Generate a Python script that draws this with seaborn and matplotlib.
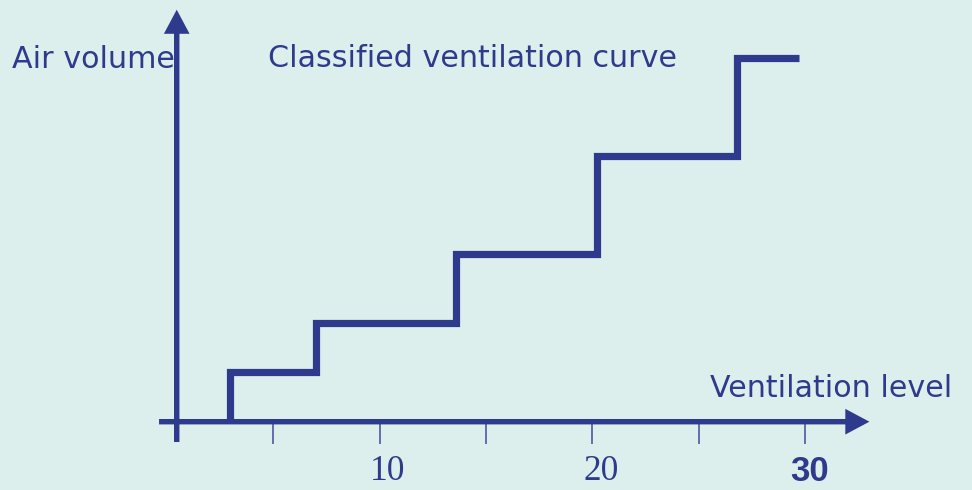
import matplotlib
matplotlib.use("Agg")
import matplotlib.pyplot as plt
import seaborn as sns

# step curve: ventilation level where each step starts, and air volume reached
levels = [3, 7, 13.6, 20.2, 26.8, 29.7]
volumes = [0, 5, 9.9, 16.8, 26.6, 36.4]

tick_values = [5, 10, 15, 20, 25, 30]
tick_labels = {10: "10", 20: "20", 30: "30"}

blue = "#2e3a8c"
tick_blue = "#5a64a4"
bg = "#ddefec"

sns.set_theme(style="white")
plt.rcParams["font.family"] = ["DejaVu Sans"]

fig = plt.figure(figsize=(9.72, 4.9), dpi=100)
fig.patch.set_facecolor(bg)
ax = fig.add_axes([0, 0, 1, 1])
ax.set_facecolor(bg)
ax.axis("off")
ax.set_xlim(-7.817, 37.817)
ax.set_ylim(-6.83, 42.17)

# axes with arrows
arrow = dict(arrowstyle="-|>,head_length=0.75,head_width=0.4", color=blue,
             lw=3.9, shrinkA=0, shrinkB=0, mutation_scale=15,
             joinstyle="miter", capstyle="butt")
ax.annotate("", xy=(33.0, 0), xytext=(-0.35, 0), arrowprops=arrow)
ax.annotate("", xy=(0.48, 41.2), xytext=(0.48, -2.03), arrowprops=arrow)

# tick marks under the x axis
ax.vlines(tick_values, -2.2, 0, color=tick_blue, lw=1.3)
for t, lab in tick_labels.items():
    if t == 30:
        ax.text(t + 0.2, -5.9, lab, ha="center", va="baseline", color=blue,
                fontsize=25, fontweight="bold", family=["Liberation Sans"])
    else:
        ax.text(t + 0.4, -5.85, lab, ha="center", va="baseline", color=blue,
                fontsize=25.5, family=["Liberation Serif"])

# classified ventilation curve
sns.lineplot(x=levels, y=volumes, drawstyle="steps-pre", estimator=None,
             sort=False, color=blue, lw=5.2, ax=ax,
             solid_joinstyle="miter", solid_capstyle="butt")

ax.text(-7.25, 35.37, "Air volume", color=blue, fontsize=21.7, va="baseline")
ax.text(4.77, 35.47, "Classified ventilation curve", color=blue,
        fontsize=21.7, va="baseline")
ax.text(25.52, 2.47, "Ventilation level", color=blue, fontsize=21.7,
        va="baseline")

fig.savefig("out.png", dpi=100, facecolor=bg)
